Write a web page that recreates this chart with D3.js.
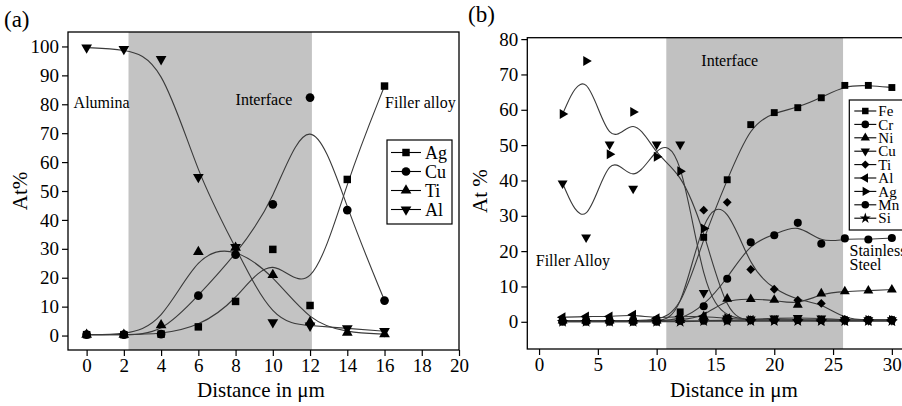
<!DOCTYPE html>
<meta charset="utf-8">
<script src="https://cdn.jsdelivr.net/npm/d3@7"></script>
<style>
body { margin: 0; background: #fff; }
svg, text { font-family: "Liberation Serif", "Times New Roman", serif; fill: #000; }
</style>
<body>
<script>
// ---- panel (a) data: alumina / filler alloy joint
var distA = [0, 2, 4, 6, 8, 10, 12, 14, 16];
var agA = [0.3, 0.3, 0.5, 3, 11.8, 29.8, 10.4, 54, 86.3];
var cuA = [0.3, 0.3, 0.5, 13.8, 28, 45.4, 82.3, 43.4, 12.1];
var tiA = [0.3, 0.3, 3.6, 28.9, 30.4, 21, 4.6, 1, 0.5];
var alA = [99.6, 99.1, 95.6, 54.8, 30.6, 4.6, 3.4, 2.5, 1.5];
var namesA = ["Ag", "Cu", "Ti", "Al"];
var kindsA = ["sq", "ci", "up", "dn"];
var xTicksA = [0, 2, 4, 6, 8, 10, 12, 14, 16, 18, 20];
var yTicksA = [0, 10, 20, 30, 40, 50, 60, 70, 80, 90, 100];

// ---- panel (b) data: filler alloy / stainless steel joint
var distB = [2, 4, 6, 8, 10, 12, 14, 16, 18, 20, 22, 24, 26, 28, 30];
var feB = [0.3, 0.3, 0.3, 0.3, 0.5, 2.8, 23.9, 40.2, 55.8, 59.2, 60.6, 63.4, 66.9, 66.9, 66.3];
var crB = [0.3, 0.3, 0.3, 0.3, 0.3, 0.5, 4.4, 12.2, 22.5, 24.5, 28, 22.1, 23.6, 23.3, 23.7];
var niB = [0.3, 0.3, 0.3, 0.3, 0.3, 0.5, 1.5, 6.5, 6.4, 6.2, 4.8, 8, 8.6, 8.8, 9.1];
var cuB = [39.2, 23.9, 50.2, 37.7, 50.2, 50.2, 8.2, 1, 0.7, 1, 1.1, 1, 0.5, 0.5, 0.5];
var tiB = [0.3, 0.3, 0.3, 0.3, 0.3, 1, 31.6, 33.8, 14.8, 9.2, 6.1, 5.2, 0.7, 0.5, 0.5];
var alB = [1.3, 1.5, 1.5, 2, 1, 1.5, 1.5, 1, 0.5, 0.5, 0.5, 0.3, 0.3, 0.3, 0.3];
var agB = [58.8, 73.8, 47.4, 59.4, 46.7, 42.6, 26.4, 1, 0.5, 0.5, 0.5, 0.5, 0.5, 0.5, 0.5];
var mnB = [0, 0, 0, 0, 0, 0.3, 0.3, 0.4, 0.5, 0.5, 0.5, 0.5, 0.5, 0.5, 0.5];
var siB = [0, 0, 0, 0, 0, 0, 0.2, 0.2, 0.2, 0.2, 0.2, 0.2, 0.2, 0.2, 0.2];
var namesB = ["Fe", "Cr", "Ni", "Cu", "Ti", "Al", "Ag", "Mn", "Si"];
var kindsB = ["sq", "ci", "up", "dn", "di", "lt", "rt", "ci", "st"];
var xTicksB = [0, 5, 10, 15, 20, 25, 30];
var yTicksB = [0, 10, 20, 30, 40, 50, 60, 70, 80];

var svg = d3.select("body").append("svg")
    .attr("width", 902)
    .attr("height", 406);

var symType = {sq: d3.symbolSquare, ci: d3.symbolCircle, up: d3.symbolTriangle, dn: d3.symbolTriangle,
               di: d3.symbolSquare, lt: d3.symbolTriangle, rt: d3.symbolTriangle, st: d3.symbolStar};
var symRot = {sq: 0, ci: 0, up: 0, dn: 180, di: 45, lt: -90, rt: 90, st: 0};
var symSize = {sq: 56, ci: 60, up: 50, dn: 50, di: 46, lt: 50, rt: 50, st: 50};

function marker(g, kind, px, py, k) {
  g.append("path")
    .attr("d", d3.symbol().type(symType[kind]).size(symSize[kind] * k)())
    .attr("transform", "translate(" + px + "," + py + ") rotate(" + symRot[kind] + ")")
    .attr("fill", "#000");
}

function axes(x, y, xt, xminor, yt, yminor) {
  var gx = svg.append("g")
      .attr("transform", "translate(0," + y.range()[0] + ")")
      .call(d3.axisBottom(x).tickValues(xminor).tickSize(3).tickSizeOuter(0).tickFormat(""));
  gx.call(d3.axisBottom(x).tickValues(xt).tickSize(6).tickSizeOuter(0).tickPadding(3));
  var gy = svg.append("g")
      .attr("transform", "translate(" + x.range()[0] + ",0)")
      .call(d3.axisLeft(y).tickValues(yminor).tickSize(3).tickSizeOuter(0).tickFormat(""));
  gy.call(d3.axisLeft(y).tickValues(yt).tickSize(6).tickSizeOuter(0).tickPadding(3));
  [gx, gy].forEach(function(g) {
    g.attr("font-family", null);
    g.selectAll("line").attr("stroke-width", 1.2);
    g.selectAll(".domain").remove();
    g.selectAll("text").style("font-size", "19px").style("font-family", "'Liberation Serif', serif");
  });
}

function series(g, x, y, xs, vals) {
  var pts = xs.map(function(d, i) { return [d, vals[i]]; });
  g.append("path")
    .datum(pts)
    .attr("fill", "none")
    .attr("stroke", "#3a3a3a")
    .attr("stroke-width", 1.1)
    .attr("d", d3.line().curve(d3.curveBasis)
      .x(function(d) { return x(d[0]); })
      .y(function(d) { return y(d[1]); }));
  return pts;
}

// ================= panel (a)
var xA = d3.scaleLinear().domain([-1, 20]).range([68, 459]);
var yA = d3.scaleLinear().domain([-5, 105]).range([350, 32]);

svg.append("rect")
    .attr("x", xA(2.25)).attr("y", yA(105))
    .attr("width", xA(12.1) - xA(2.25)).attr("height", yA(-5) - yA(105))
    .attr("fill", "#c3c3c3");

var gA = svg.append("g");
var allA = [agA, cuA, tiA, alA];
var ptsA = allA.map(function(v) { return series(gA, xA, yA, distA, v); });
ptsA.forEach(function(pts, i) {
  pts.forEach(function(d) { marker(gA, kindsA[i], xA(d[0]), yA(d[1]), 1); });
});

svg.append("rect")
    .attr("x", 68).attr("y", 32).attr("width", 459 - 68).attr("height", 350 - 32)
    .attr("fill", "none").attr("stroke", "#000").attr("stroke-width", 1.3);

axes(xA, yA, xTicksA, d3.range(-1, 20, 1), yTicksA, d3.range(-5, 105, 5));

// legend (a)
var legA = svg.append("g").attr("transform", "translate(387,140)");
legA.append("rect").attr("width", 65).attr("height", 84)
    .attr("fill", "#fff").attr("stroke", "#000").attr("stroke-width", 1.2);
namesA.forEach(function(n, i) {
  var ly = 12.5 + i * 19;
  legA.append("line").attr("x1", 4).attr("x2", 34).attr("y1", ly).attr("y2", ly)
      .attr("stroke", "#000").attr("stroke-width", 1.1);
  marker(legA, kindsA[i], 19, ly, 1);
  legA.append("text").attr("x", 38).attr("y", ly).attr("dy", "0.35em")
      .style("font-size", "18px").text(n);
});

svg.append("text").attr("x", xA(-0.7)).attr("y", yA(78.7)).style("font-size", "16px").text("Alumina");
svg.append("text").attr("x", xA(8)).attr("y", yA(79.8)).style("font-size", "16px").text("Interface");
svg.append("text").attr("x", xA(16.03)).attr("y", yA(78.7)).style("font-size", "16px").text("Filler alloy");

svg.append("text").attr("x", 4).attr("y", 27).style("font-size", "23px").text("(a)");
svg.append("text").attr("transform", "translate(27,191) rotate(-90)")
    .style("text-anchor", "middle").style("font-size", "21px").text("At%");
svg.append("text").attr("x", 261).attr("y", 397)
    .style("text-anchor", "middle").style("font-size", "21px").text("Distance in μm");

// ================= panel (b)
var xB = d3.scaleLinear().domain([-1, 31.5]).range([527.3, 909.5]);
var yB = d3.scaleLinear().domain([-7.7, 80.4]).range([349, 37.7]);

svg.append("rect")
    .attr("x", xB(10.82)).attr("y", yB(80.4))
    .attr("width", xB(25.85) - xB(10.82)).attr("height", yB(-7.7) - yB(80.4))
    .attr("fill", "#c1c1c1");

var gB = svg.append("g");
var allB = [feB, crB, niB, cuB, tiB, alB, agB, mnB, siB];
var ptsB = allB.map(function(v) { return series(gB, xB, yB, distB, v); });
ptsB.forEach(function(pts, i) {
  pts.forEach(function(d) { marker(gB, kindsB[i], xB(d[0]), yB(d[1]), 0.85); });
});

svg.append("rect")
    .attr("x", 527.3).attr("y", 37.7).attr("width", 420).attr("height", 349 - 37.7)
    .attr("fill", "none").attr("stroke", "#000").attr("stroke-width", 1.3);

axes(xB, yB, xTicksB, d3.range(-2.5, 31.5, 2.5), yTicksB, d3.range(-5, 80, 5));

// legend (b), runs off the right edge like the original
var legB = svg.append("g").attr("transform", "translate(849.3,100)");
legB.append("rect").attr("width", 80).attr("height", 130)
    .attr("fill", "#fff").attr("stroke", "#000").attr("stroke-width", 1.2);
namesB.forEach(function(n, i) {
  var ly = 11 + i * 13.4;
  legB.append("line").attr("x1", 5).attr("x2", 27).attr("y1", ly).attr("y2", ly)
      .attr("stroke", "#000").attr("stroke-width", 1.1);
  marker(legB, kindsB[i], 16, ly, 0.75);
  legB.append("text").attr("x", 29).attr("y", ly).attr("dy", "0.35em")
      .style("font-size", "15px").text(n);
});

svg.append("text").attr("x", xB(13.8)).attr("y", yB(72.4)).style("font-size", "16px").text("Interface");
svg.append("text").attr("x", xB(-0.28)).attr("y", yB(15.8)).style("font-size", "16px").text("Filler Alloy");
svg.append("text").attr("x", xB(26.4)).attr("y", yB(18.6)).style("font-size", "16px").text("Stainless");
svg.append("text").attr("x", xB(26.4)).attr("y", yB(14.6)).style("font-size", "16px").text("Steel");

svg.append("text").attr("x", 468).attr("y", 22).style("font-size", "23px").text("(b)");
svg.append("text").attr("transform", "translate(487,191) rotate(-90)")
    .style("text-anchor", "middle").style("font-size", "21px").text("At %");
svg.append("text").attr("x", 734).attr("y", 397)
    .style("text-anchor", "middle").style("font-size", "21px").text("Distance in μm");
</script>
</body>
</html>
